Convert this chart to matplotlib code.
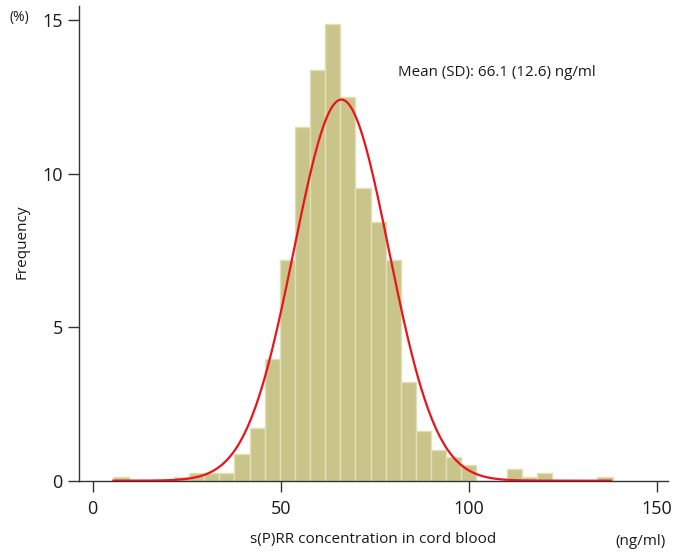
import numpy as np
import matplotlib
matplotlib.use("Agg")
import matplotlib.pyplot as plt

# ---- data ----
bin_start = 5.5
bin_width = 4.02
freq_pct = [0.13, 0, 0, 0, 0.13, 0.26, 0.26, 0.26, 0.87, 1.73, 3.96, 7.19,
            11.51, 13.37, 14.87, 12.51, 9.53, 8.43, 7.19, 3.23, 1.62, 1.00,
            0.76, 0.51, 0, 0, 0.38, 0.13, 0.26, 0, 0, 0, 0.13]
mean_val = 66.1
sd_val = 12.6
curve_scale = 392.0   # percent * ng/ml scaling of fitted normal
data_min = 5.5
data_max = 137.7
x_ticks = [0, 50, 100, 150]
y_ticks = [0, 5, 10, 15]

plt.rcParams['font.family'] = ['Open Sans', 'DejaVu Sans']

fig = plt.figure(figsize=(6.79, 5.55), dpi=100)
ax = fig.add_axes([0.1168, 0.1339, 0.9838 - 0.1168, 0.9892 - 0.1339])

lefts = [bin_start + i * bin_width for i in range(len(freq_pct))]
ax.bar(lefts, freq_pct, width=bin_width, align='edge',
       color='#c9c48a', edgecolor='#e2dfb6', linewidth=1.0, zorder=2)

xs = np.linspace(data_min, data_max, 600)
ys = curve_scale * np.exp(-0.5 * ((xs - mean_val) / sd_val) ** 2) / (sd_val * np.sqrt(2 * np.pi))
ax.plot(xs, ys, color='#e8141c', linewidth=1.6, zorder=3)

ax.set_xlim(-3.56, 152.9)
ax.set_ylim(0, 15.46)
ax.set_xticks(x_ticks)
ax.set_yticks(y_ticks)
ax.tick_params(axis='both', direction='out', length=8, width=1.0, color='#333333',
               labelsize=13, labelcolor='#1a1a1a')
ax.tick_params(axis='x', pad=6)
ax.tick_params(axis='y', pad=4)
for s in ['top', 'right']:
    ax.spines[s].set_visible(False)
for s in ['left', 'bottom']:
    ax.spines[s].set_color('#333333')
    ax.spines[s].set_linewidth(1.0)

fig.text(22 / 679, 1 - 242 / 555, 'Frequency', rotation=90, ha='center', va='center',
         fontsize=11, color='#1a1a1a')
fig.text(19 / 679, 1 - 18 / 555, '(%)', ha='center', va='center', fontsize=10, color='#1a1a1a')
fig.text(373 / 679, 1 - 543 / 555, 's(P)RR concentration in cord blood', ha='center', va='baseline',
         fontsize=11, color='#1a1a1a')
fig.text(640 / 679, 1 - 545 / 555, '(ng/ml)', ha='center', va='baseline', fontsize=11, color='#1a1a1a')
fig.text(398 / 679, 1 - 73 / 555, 'Mean (SD): 66.1 (12.6) ng/ml', ha='left', va='center',
         fontsize=10.9, color='#1a1a1a')

fig.savefig('out.png', dpi=100)
